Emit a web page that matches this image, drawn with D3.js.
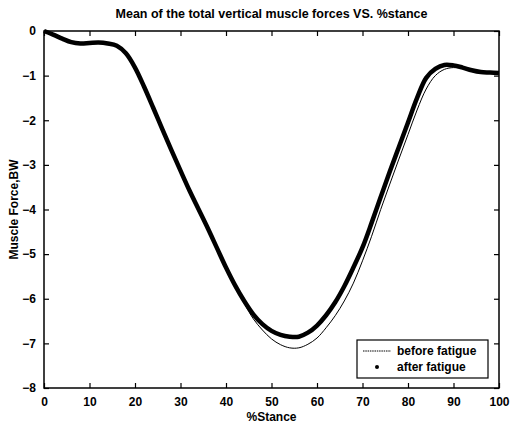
<!DOCTYPE html>
<html>
<head>
<meta charset="utf-8">
<script src="https://cdn.jsdelivr.net/npm/d3@7"></script>
<style>
  body { margin: 0; background: #fff; }
  svg { display: block; font-family: "Liberation Sans", Arial, sans-serif; }
</style>
</head>
<body>
<div id="chart"></div>
<script>
// % stance samples
const stance = [0, 2, 4, 6, 8, 10, 12, 14, 16, 18, 20, 22, 24, 26, 28, 30, 32, 34, 36, 38, 40,
  42, 44, 46, 48, 50, 52, 54, 56, 58, 60, 62, 64, 66, 68, 70, 72, 74, 76, 78, 80,
  82, 84, 86, 88, 90, 92, 94, 96, 98, 100];

// before fatigue (thin line)
const before = [0, -0.08, -0.17, -0.25, -0.28, -0.27, -0.26, -0.28, -0.33, -0.5, -0.82,
  -1.25, -1.72, -2.2, -2.67, -3.13, -3.58, -4.0, -4.42, -4.86, -5.3,
  -5.72, -6.1, -6.45, -6.7, -6.9, -7.03, -7.1, -7.1, -7.02, -6.88,
  -6.65, -6.38, -6.05, -5.65, -5.15, -4.6, -4.0, -3.43, -2.87, -2.32,
  -1.77, -1.3, -1.0, -0.86, -0.82, -0.84, -0.88, -0.92, -0.93, -0.94];

// after fatigue (thick dotted line)
const after = [0, -0.08, -0.17, -0.25, -0.28, -0.27, -0.26, -0.28, -0.33, -0.5, -0.82,
  -1.25, -1.72, -2.2, -2.67, -3.13, -3.58, -4.0, -4.42, -4.86, -5.3,
  -5.7, -6.05, -6.35, -6.57, -6.72, -6.81, -6.85, -6.85, -6.76, -6.6,
  -6.37, -6.08, -5.72, -5.3, -4.85, -4.3, -3.72, -3.15, -2.6, -2.05,
  -1.5, -1.05, -0.85, -0.76, -0.77, -0.82, -0.88, -0.92, -0.93, -0.94];

const xTicks = [0, 10, 20, 30, 40, 50, 60, 70, 80, 90, 100];
const yTicks = [0, -1, -2, -3, -4, -5, -6, -7, -8];

const W = 510, H = 427;
const margin = {top: 31, right: 11, bottom: 39, left: 44};
const width = W - margin.left - margin.right,
      height = H - margin.top - margin.bottom;

const x = d3.scaleLinear().domain([0, 100]).range([0, width]);
const y = d3.scaleLinear().domain([-8, 0]).range([height, 0]);

const svg = d3.select("#chart").append("svg")
    .attr("width", W)
    .attr("height", H);

const g = svg.append("g")
    .attr("transform", "translate(" + margin.left + "," + margin.top + ")");

// title
svg.append("text")
    .attr("x", margin.left + width / 2)
    .attr("y", 18)
    .attr("text-anchor", "middle")
    .style("font-size", "12.5px")
    .style("font-weight", "bold")
    .text("Mean of the total vertical muscle forces VS. %stance");

// axes (MATLAB style box with inward ticks)
function styleAxis(sel, labels) {
  sel.select(".domain").remove();
  sel.selectAll("line").attr("stroke", "#000").attr("stroke-width", 1.2);
  sel.selectAll("text")
      .style("font-size", "12px")
      .style("font-weight", "bold")
      .style("display", labels ? null : "none");
}

g.append("g")
    .attr("transform", "translate(0," + height + ")")
    .call(d3.axisBottom(x).tickValues(xTicks).tickSize(-5).tickPadding(9))
    .call(s => styleAxis(s, true));

g.append("g")
    .call(d3.axisTop(x).tickValues(xTicks).tickSize(-5))
    .call(s => styleAxis(s, false));

g.append("g")
    .call(d3.axisLeft(y).tickValues(yTicks).tickSize(-5).tickPadding(8))
    .call(s => styleAxis(s, true));

g.append("g")
    .attr("transform", "translate(" + width + ",0)")
    .call(d3.axisRight(y).tickValues(yTicks).tickSize(-5))
    .call(s => styleAxis(s, false));

g.append("rect")
    .attr("width", width)
    .attr("height", height)
    .attr("fill", "none")
    .attr("stroke", "#000")
    .attr("stroke-width", 1.5);

// lines
const line = d3.line()
    .x((d, i) => x(stance[i]))
    .y(d => y(d))
    .curve(d3.curveCatmullRom.alpha(0.5));

g.append("path")
    .datum(before)
    .attr("fill", "none")
    .attr("stroke", "#000")
    .attr("stroke-width", 1)
    .attr("d", line);

g.append("path")
    .datum(after)
    .attr("fill", "none")
    .attr("stroke", "#000")
    .attr("stroke-width", 4.5)
    .attr("stroke-linejoin", "round")
    .attr("d", line);

// legend
const lg = svg.append("g").attr("transform", "translate(357,340)");
lg.append("rect")
    .attr("width", 131)
    .attr("height", 38)
    .attr("fill", "#fff")
    .attr("stroke", "#000")
    .attr("stroke-width", 1.2);
lg.append("line")
    .attr("x1", 6).attr("x2", 34)
    .attr("y1", 11).attr("y2", 11)
    .attr("stroke", "#000")
    .attr("stroke-width", 1)
    .attr("stroke-dasharray", "1.5,0.8");
lg.append("circle")
    .attr("cx", 20).attr("cy", 27).attr("r", 2)
    .attr("fill", "#000");
lg.append("text")
    .attr("x", 40).attr("y", 15)
    .style("font-size", "12px")
    .style("font-weight", "bold")
    .text("before fatigue");
lg.append("text")
    .attr("x", 40).attr("y", 31)
    .style("font-size", "12px")
    .style("font-weight", "bold")
    .text("after fatigue");

// axis labels
svg.append("text")
    .attr("x", margin.left + width / 2)
    .attr("y", 421)
    .attr("text-anchor", "middle")
    .style("font-size", "12px")
    .style("font-weight", "bold")
    .text("%Stance");

svg.append("text")
    .attr("transform", "translate(18," + (margin.top + height / 2) + ") rotate(-90)")
    .attr("text-anchor", "middle")
    .style("font-size", "12px")
    .style("font-weight", "bold")
    .text("Muscle Force,BW");
</script>
</body>
</html>
